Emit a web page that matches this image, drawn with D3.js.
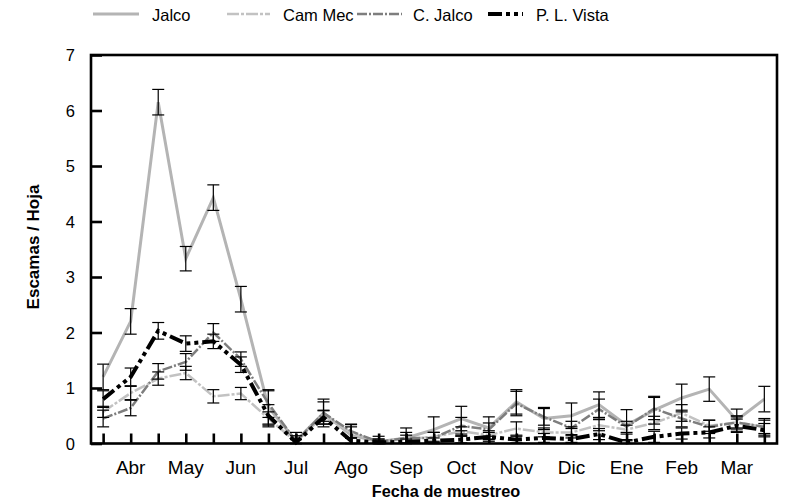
<!DOCTYPE html>
<meta charset="utf-8">
<style>
body { margin: 0; background: #fff; font-family: "Liberation Sans", Arial, sans-serif; }
</style>
<body>
<div id="chart"></div>
<script src="https://cdn.jsdelivr.net/npm/d3@7"></script>
<script>

// sampling points (two per month), month labels on every other one
var months = ["Abr", "May", "Jun", "Jul", "Ago", "Sep", "Oct", "Nov", "Dic", "Ene", "Feb", "Mar"];
var monthIdx = [1, 3, 5, 7, 9, 11, 13, 15, 17, 19, 21, 23];
var yTicks = [0, 1, 2, 3, 4, 5, 6, 7];

var jalco     = [1.2, 2.2, 6.15, 3.33, 4.43, 2.6, 0.65, 0.05, 0.55, 0.15, 0.03, 0.1, 0.25, 0.45, 0.28, 0.75, 0.45, 0.5, 0.7, 0.33, 0.6, 0.82, 0.98, 0.42, 0.8];
var jalcoErr  = [0.23, 0.23, 0.23, 0.22, 0.23, 0.23, 0.3, 0.15, 0.25, 0.2, 0.1, 0.18, 0.23, 0.22, 0.2, 0.22, 0.2, 0.23, 0.23, 0.28, 0.25, 0.25, 0.22, 0.2, 0.23];
var camMec    = [0.57, 0.91, 1.17, 1.27, 0.85, 0.9, 0.45, 0.03, 0.5, 0.2, 0.03, 0.08, 0.12, 0.22, 0.15, 0.27, 0.2, 0.2, 0.33, 0.25, 0.37, 0.55, 0.32, 0.38, 0.3];
var camMecErr = [0.1, 0.12, 0.12, 0.12, 0.12, 0.11, 0.12, 0.05, 0.1, 0.1, 0.05, 0.07, 0.08, 0.08, 0.08, 0.12, 0.08, 0.1, 0.1, 0.08, 0.12, 0.15, 0.1, 0.1, 0.12];
var cJalco    = [0.45, 0.64, 1.3, 1.47, 2.0, 1.52, 0.72, 0.04, 0.55, 0.22, 0.03, 0.1, 0.1, 0.32, 0.25, 0.72, 0.48, 0.28, 0.62, 0.3, 0.63, 0.45, 0.3, 0.38, 0.3];
var cJalcoErr = [0.15, 0.14, 0.14, 0.15, 0.16, 0.13, 0.25, 0.1, 0.2, 0.12, 0.05, 0.1, 0.1, 0.15, 0.12, 0.22, 0.15, 0.12, 0.18, 0.1, 0.2, 0.15, 0.12, 0.12, 0.15];
var plVista   = [0.8, 1.2, 2.03, 1.8, 1.84, 1.42, 0.5, 0.02, 0.47, 0.05, 0.02, 0.03, 0.05, 0.07, 0.12, 0.07, 0.1, 0.08, 0.17, 0.02, 0.12, 0.18, 0.2, 0.32, 0.24];
var plVistaErr= [0.15, 0.16, 0.15, 0.14, 0.13, 0.14, 0.2, 0.05, 0.12, 0.05, 0.03, 0.05, 0.05, 0.06, 0.08, 0.06, 0.08, 0.06, 0.1, 0.05, 0.1, 0.1, 0.1, 0.12, 0.12];

var series = [
  {name: "Jalco",       vals: jalco,   err: jalcoErr,   color: "#b4b4b4", width: 3,   dash: null},
  {name: "Cam Mec",     vals: camMec,  err: camMecErr,  color: "#c2c2c2", width: 2.5, dash: "12,2,3,2"},
  {name: "C. Jalco",    vals: cJalco,  err: cJalcoErr,  color: "#7e7e7e", width: 2.5, dash: "10,2,2,2"},
  {name: "P. L. Vista", vals: plVista, err: plVistaErr, color: "#000",    width: 4,   dash: "14,4,4,4,4,4"}
];

var W = 786, H = 503;
var pL = 91, pR = 777, pT = 55, pB = 443.5;

var svg = d3.select("#chart").append("svg")
  .attr("width", W)
  .attr("height", H);

var x = d3.scaleLinear().domain([-0.44, 24.46]).range([pL, pR]);
var y = d3.scaleLinear().domain([0, 7]).range([pB, pT]);

// lines
var line = d3.line()
  .x(function(d, i){ return x(i); })
  .y(function(d){ return y(d); });

series.forEach(function(s){
  svg.append("path")
    .datum(s.vals)
    .attr("d", line)
    .attr("fill", "none")
    .attr("stroke", s.color)
    .attr("stroke-width", s.width)
    .attr("stroke-dasharray", s.dash);
});

// error bars
series.forEach(function(s){
  var g = svg.append("g").attr("stroke", "#000").attr("stroke-width", 1.2);
  s.vals.forEach(function(v, i){
    var lo = Math.max(0, v - s.err[i]), hi = v + s.err[i];
    g.append("line").attr("x1", x(i)).attr("x2", x(i)).attr("y1", y(lo)).attr("y2", y(hi));
    g.append("line").attr("x1", x(i) - 6).attr("x2", x(i) + 6).attr("y1", y(hi)).attr("y2", y(hi));
    g.append("line").attr("x1", x(i) - 6).attr("x2", x(i) + 6).attr("y1", y(lo)).attr("y2", y(lo));
  });
});

// frame
svg.append("rect")
  .attr("x", pL).attr("y", pT)
  .attr("width", pR - pL).attr("height", pB - pT)
  .attr("fill", "none").attr("stroke", "#000").attr("stroke-width", 2.6);

// axes with inward ticks
var yAxis = svg.append("g")
  .attr("transform", "translate(" + pL + ",0)")
  .call(d3.axisRight(y).tickValues(yTicks).tickSize(11).tickFormat(""));
var xAxis = svg.append("g")
  .attr("transform", "translate(0," + pB + ")")
  .call(d3.axisTop(x).tickValues(d3.range(25)).tickSize(10).tickFormat(""));
[xAxis, yAxis].forEach(function(a){
  a.select(".domain").remove();
  a.selectAll(".tick line").attr("stroke", "#000").attr("stroke-width", 2.6);
});

// tick labels
svg.selectAll(".ylab").data(yTicks).enter().append("text")
  .attr("x", 75).attr("y", function(d){ return y(d) + 6; })
  .attr("text-anchor", "end")
  .style("font-size", "16.5px")
  .text(function(d){ return d; });

svg.selectAll(".xlab").data(months).enter().append("text")
  .attr("x", function(d, i){ return x(monthIdx[i]); })
  .attr("y", 474)
  .attr("text-anchor", "middle")
  .style("font-size", "19px")
  .text(function(d){ return d; });

// axis titles
svg.append("text")
  .attr("x", 446).attr("y", 497)
  .attr("text-anchor", "middle")
  .style("font-size", "16.3px").style("font-weight", "bold")
  .text("Fecha de muestreo");
svg.append("text")
  .attr("transform", "translate(39," + 247 + ") rotate(-90)")
  .attr("text-anchor", "middle")
  .style("font-size", "17px").style("font-weight", "bold")
  .text("Escamas / Hoja");

// legend
var legX = [93, 227, 357, 488], legLen = [46, 43, 45, 35], legText = [152, 283, 413, 536];
series.forEach(function(s, i){
  svg.append("line")
    .attr("x1", legX[i]).attr("x2", legX[i] + legLen[i])
    .attr("y1", 14).attr("y2", 14)
    .attr("stroke", s.color)
    .attr("stroke-width", s.width)
    .attr("stroke-dasharray", s.dash);
  svg.append("text")
    .attr("x", legText[i]).attr("y", 21)
    .style("font-size", "16.5px")
    .text(s.name);
});

</script>
